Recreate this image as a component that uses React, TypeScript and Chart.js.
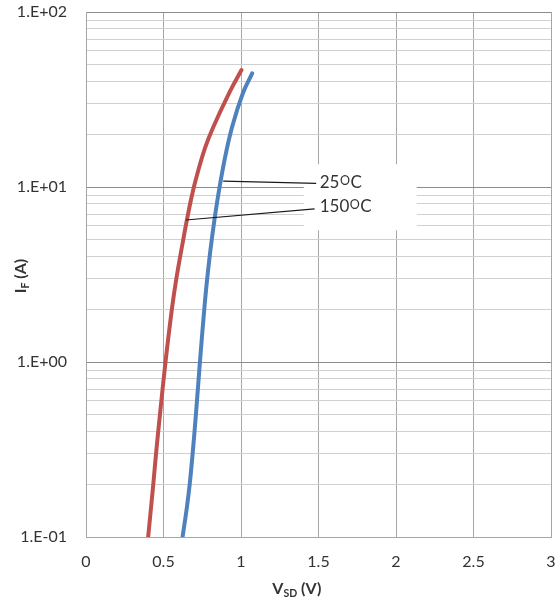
import React, { useEffect, useRef } from 'react';
import { Chart, registerables } from 'chart.js';
Chart.register(...registerables);

// ---- data ----
const xTickValues = [0, 0.5, 1, 1.5, 2, 2.5, 3];
const yDecades = [0.1, 1, 10, 100];
const yDecadeLabels = ['1.E-01', '1.E+00', '1.E+01', '1.E+02'];

// 150 °C (red)
const v150 = [0.401, 0.434, 0.452, 0.477, 0.513, 0.554, 0.583, 0.627, 0.651, 0.677, 0.708, 0.767, 0.822, 0.928, 1.003];
const i150 = [0.1, 0.2, 0.3, 0.5, 1.0, 2.0, 3.0, 4.98, 6.48, 8.43, 11.0, 16.6, 22.1, 35.1, 46.6];

// 25 °C (blue)
const v25 = [0.623, 0.651, 0.669, 0.688, 0.709, 0.735, 0.763, 0.782, 0.811, 0.848, 0.894, 0.943, 1.012, 1.072];
const i25 = [0.1, 0.148, 0.2, 0.3, 0.5, 1.0, 2.0, 3.0, 4.98, 8.43, 14.3, 22.1, 34.3, 44.6];

// annotation labels
const annotTemps = ['25', '150'];
const annotFromV = [0.885, 0.644];
const annotFromI = [10.8, 6.48];
const annotToV = [1.485, 1.475];
const annotToI = [10.5, 7.49];
const annotTextV = 1.508;
const annotTextI = [9.84, 7.17];

const FONT = 'Lato, "Open Sans", sans-serif';
const TEXT = '#333333';

function drawTemp(ctx: CanvasRenderingContext2D, num: string, x: number, yb: number) {
  ctx.textAlign = 'left';
  ctx.textBaseline = 'alphabetic';
  ctx.fillStyle = TEXT;
  ctx.font = `17px ${FONT}`;
  ctx.fillText(num, x, yb);
  let cx = x + ctx.measureText(num).width + 0.5;
  ctx.font = `12.5px ${FONT}`;
  ctx.fillText('O', cx, yb - 3.3);
  cx += ctx.measureText('O').width + 0.5;
  ctx.font = `17px ${FONT}`;
  ctx.fillText('C', cx, yb);
}

function drawSubTitle(ctx: CanvasRenderingContext2D, main: string, sub: string, rest: string, cx: number, yb: number) {
  const big = `bold 16px ${FONT}`;
  const small = `bold 10.5px ${FONT}`;
  ctx.font = big;
  const w1 = ctx.measureText(main).width;
  const w3 = ctx.measureText(rest).width;
  ctx.font = small;
  const w2 = ctx.measureText(sub).width;
  const total = w1 + w2 + w3;
  let x = cx - total / 2;
  ctx.textAlign = 'left';
  ctx.textBaseline = 'alphabetic';
  ctx.fillStyle = TEXT;
  ctx.font = big;
  ctx.fillText(main, x, yb);
  x += w1;
  ctx.font = small;
  ctx.fillText(sub, x, yb + 3);
  x += w2;
  ctx.font = big;
  ctx.fillText(rest, x, yb);
}

const annotPlugin = {
  id: 'annot',
  beforeDatasetsDraw(chart: any) {
    const { ctx, scales } = chart;
    const xs = scales.x, ys = scales.y;
    const lx = xs.getPixelForValue(annotTextV);
    const yTop = ys.getPixelForValue(annotTextI[0]);
    const yBot = ys.getPixelForValue(annotTextI[annotTextI.length - 1]);
    ctx.save();
    ctx.fillStyle = '#ffffff';
    ctx.fillRect(lx - 16, yTop - 24, 113, yBot - yTop + 42);
    ctx.restore();
  },
  afterDatasetsDraw(chart: any) {
    const { ctx, scales } = chart;
    const xs = scales.x, ys = scales.y;
    ctx.save();
    ctx.strokeStyle = '#1a1a1a';
    ctx.lineWidth = 1.2;
    for (let k = 0; k < annotTemps.length; k++) {
      ctx.beginPath();
      ctx.moveTo(xs.getPixelForValue(annotFromV[k]), ys.getPixelForValue(annotFromI[k]));
      ctx.lineTo(xs.getPixelForValue(annotToV[k]), ys.getPixelForValue(annotToI[k]));
      ctx.stroke();
      drawTemp(ctx, annotTemps[k], xs.getPixelForValue(annotTextV), ys.getPixelForValue(annotTextI[k]));
    }
    ctx.restore();
  },
  afterDraw(chart: any) {
    const { ctx, chartArea } = chart;
    ctx.save();
    // x title
    drawSubTitle(ctx, 'V', 'SD', ' (V)', chart.scales.x.getPixelForValue(1.36), chartArea.bottom + 57);
    // y title
    ctx.translate(26, (chartArea.top + chartArea.bottom) / 2 + 1.5);
    ctx.rotate(-Math.PI / 2);
    drawSubTitle(ctx, 'I', 'F', ' (A)', 0, 0);
    ctx.restore();
  },
};

function zeroPad(s: any) {
  s.paddingTop = 0;
  s.paddingBottom = 0;
  s.paddingLeft = 0;
  s.paddingRight = 0;
}

export default function App() {
  const ref = useRef<HTMLCanvasElement>(null);
  useEffect(() => {
    document.body.style.margin = '0';
    const canvas = ref.current!;
    const yTicks: number[] = [];
    for (let d = 0; d < yDecades.length; d++) {
      yTicks.push(yDecades[d]);
      if (d < yDecades.length - 1) {
        for (let k = 2; k <= 9; k++) yTicks.push(yDecades[d] * k);
      }
    }
    const chart = new Chart(canvas, {
      type: 'line',
      data: {
        datasets: [
          {
            label: '25°C',
            data: v25.map((v, i) => ({ x: v, y: i25[i] })),
            borderColor: '#4F81BD',
            borderWidth: 4,
            pointRadius: 0,
            tension: 0.4,
            borderCapStyle: 'round',
            fill: false,
          },
          {
            label: '150°C',
            data: v150.map((v, i) => ({ x: v, y: i150[i] })),
            borderColor: '#C0504D',
            borderWidth: 4,
            pointRadius: 0,
            tension: 0.4,
            borderCapStyle: 'round',
            fill: false,
          },
        ],
      },
      options: {
        responsive: false,
        animation: false,
        layout: { padding: { top: 12, right: 9, left: 0, bottom: 0 } },
        plugins: { legend: { display: false }, tooltip: { enabled: false } },
        scales: {
          x: {
            type: 'linear',
            min: 0,
            max: 3,
            afterBuildTicks: (s: any) => {
              s.ticks = xTickValues.map((v) => ({ value: v }));
            },
            afterFit: (s: any) => {
              s.height = 66;
              zeroPad(s);
            },
            ticks: {
              autoSkip: false,
              maxRotation: 0,
              padding: 15,
              color: '#333333',
              font: { family: FONT, size: 16 },
              callback: (v: any) => String(v),
            },
            grid: { color: '#a6a6a6', drawTicks: false, lineWidth: 1 },
            border: { color: '#a6a6a6' },
          },
          y: {
            type: 'logarithmic',
            min: 0.1,
            max: 100,
            afterBuildTicks: (s: any) => {
              s.ticks = yTicks.map((v) => ({ value: v }));
            },
            afterFit: (s: any) => {
              s.width = 86;
              zeroPad(s);
            },
            ticks: {
              autoSkip: false,
              padding: 19,
              color: '#333333',
              font: { family: FONT, size: 16 },
              callback: (v: any) => {
                const idx = yDecades.indexOf(v);
                return idx >= 0 ? yDecadeLabels[idx] : '';
              },
            },
            grid: {
              drawTicks: false,
              lineWidth: 1,
              color: (c: any) => (c.tick && yDecades.indexOf(c.tick.value) >= 0 ? '#8c8c8c' : '#d0d0d0'),
            },
            border: { color: '#a6a6a6' },
          },
        },
      },
      plugins: [annotPlugin],
    } as any);
    return () => chart.destroy();
  }, []);
  return <canvas ref={ref} width={560} height={603} style={{ display: 'block' }} />;
}
